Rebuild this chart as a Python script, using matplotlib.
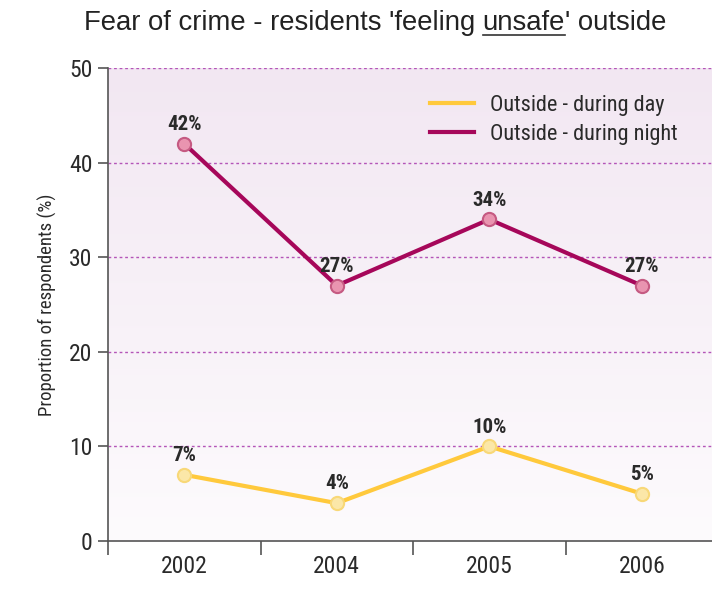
import matplotlib
matplotlib.use("Agg")
import matplotlib.pyplot as plt
import numpy as np
from matplotlib.colors import LinearSegmentedColormap
from matplotlib.lines import Line2D
from matplotlib import font_manager as fm

years = ["2002", "2004", "2005", "2006"]
day = [7, 4, 10, 5]
night = [42, 27, 34, 27]
series_names = ["Outside - during day", "Outside - during night"]

installed = {f.name for f in fm.fontManager.ttflist}
prefs = ['Liberation Sans Narrow', 'Nimbus Sans Narrow', 'Roboto Condensed', 'Arimo Narrow',
         'Barlow Semi Condensed', 'Archivo Narrow']
narrow = [p for p in prefs if p in installed][:1]
plt.rcParams['font.family'] = narrow + ['Liberation Sans', 'DejaVu Sans']

fig = plt.figure(figsize=(7.12, 5.98), dpi=100)
ax = fig.add_axes([108/712, 1-541/598, 1-108/712, (541-68)/598])

cmap = LinearSegmentedColormap.from_list("bg", ["#fdfbfd", "#f2e7f2"])
grad = np.linspace(0, 1, 256).reshape(-1, 1)
ax.imshow(grad, aspect='auto', cmap=cmap, extent=[-0.5, 3.46, 0, 50], origin='lower', zorder=0)

x = np.arange(len(years))
day_c = "#ffc93c"
night_c = "#a6075a"
ax.plot(x, day, color=day_c, lw=3, zorder=3,
        marker='o', ms=9.5, mfc="#fbe7a8", mec="#f8d878", mew=1.5)
ax.plot(x, night, color=night_c, lw=3, zorder=3,
        marker='o', ms=9.5, mfc="#e994b0", mec="#c55a82", mew=1.5)

for series in (day, night):
    for xi, v in zip(x, series):
        ax.annotate(f"{v}%", (xi, v), xytext=(0, 7), textcoords='offset points',
                    ha='center', va='bottom', fontsize=15, fontweight='bold', color='#2a2a2a')

ax.set_xlim(-0.5, 3.46)
ax.set_ylim(0, 50)
ax.set_yticks([0, 10, 20, 30, 40, 50])
ax.set_xticks(x)
ax.set_xticklabels(years)
ax.set_xticks([-0.5, 0.5, 1.5, 2.5], minor=True)
ax.tick_params(axis='x', which='major', length=0, pad=10, labelsize=17, colors='#2a2a2a')
ax.tick_params(axis='x', which='minor', length=10, width=1.2, color='#555555', direction='out')
ax.tick_params(axis='y', length=7, width=1.2, color='#555555', labelsize=17, labelcolor='#2a2a2a', pad=4)
for yv in [10, 20, 30, 40, 50]:
    ax.axhline(yv, color='#b455b8', lw=1, ls=(0, (2, 2)), zorder=1)

for s in ['top', 'right']:
    ax.spines[s].set_visible(False)
for s in ['left', 'bottom']:
    ax.spines[s].set_color('#555555')
    ax.spines[s].set_linewidth(1.2)

ax.set_ylabel("Proportion of respondents (%)", fontsize=13.5, color='#2a2a2a', labelpad=9)

handles = [Line2D([], [], color=day_c, lw=3), Line2D([], [], color=night_c, lw=3)]
ax.legend(handles, series_names, loc='upper left', bbox_to_anchor=(0.50, 0.985), frameon=False,
          fontsize=16, handlelength=2.0, handletextpad=0.7, labelspacing=0.35, labelcolor='#2a2a2a')

tfont = dict(fontsize=19.8, color='#222222', family=['Liberation Sans', 'DejaVu Sans'])
parts = ["Fear of crime - residents 'feeling ", "unsafe", "' outside"]
fig.canvas.draw()
r = fig.canvas.get_renderer()
tmp = [fig.text(0, 0, p, **tfont) for p in parts]
widths = [t.get_window_extent(r).width for t in tmp]
for t in tmp:
    t.remove()
total = sum(widths)
cx = 375
x0 = cx - total/2
ybase = 598 - 30
for p, w in zip(parts, widths):
    fig.text(x0/712, ybase/598, p, ha='left', va='baseline', **tfont)
    if p == "unsafe":
        fig.add_artist(Line2D([x0/712, (x0+w)/712], [(ybase-5)/598]*2, color='#333333', lw=1.2))
    x0 += w

fig.savefig("out.png", dpi=100)
